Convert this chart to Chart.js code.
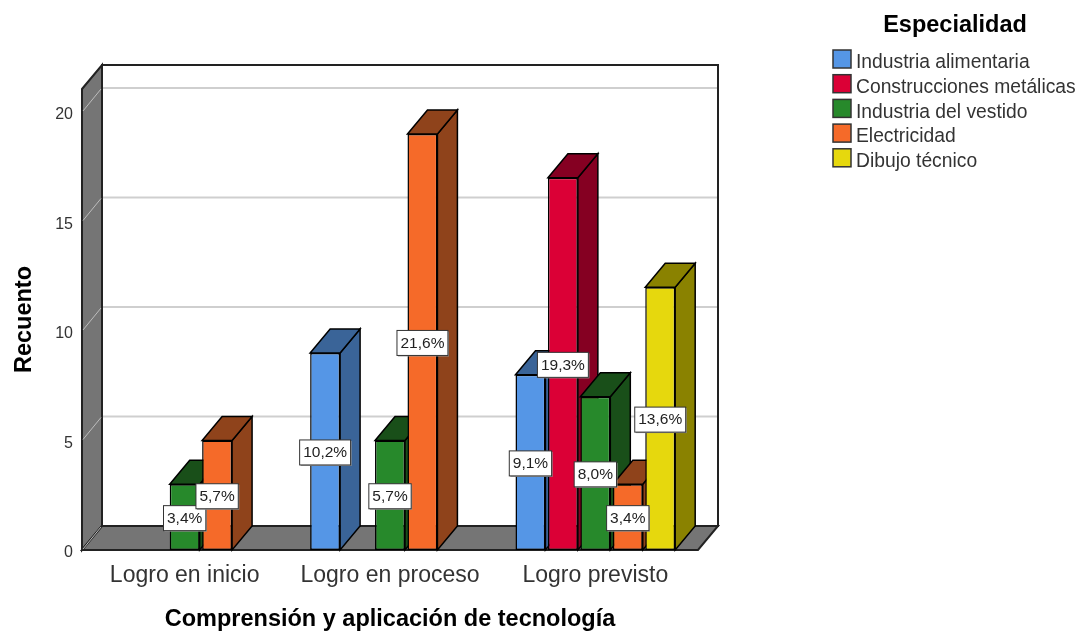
<!DOCTYPE html>
<html>
<head>
<meta charset="utf-8">
<style>
  html, body { margin: 0; padding: 0; background: #fff; }
  canvas { display: block; }
</style>
<script src="https://cdn.jsdelivr.net/npm/chart.js@4"></script>
</head>
<body>
<canvas id="grafico" width="1078" height="631"></canvas>
<script>
const categories = ['Logro en inicio', 'Logro en proceso', 'Logro previsto'];
const seriesNames = ['Industria alimentaria', 'Construcciones metálicas', 'Industria del vestido', 'Electricidad', 'Dibujo técnico'];

const alimentaria = [null, 9, 8];
const metalicas = [null, null, 17];
const vestido = [3, 5, 7];
const electricidad = [5, 19, 3];
const dibujo = [null, null, 12];

const pctAlimentaria = [null, '10,2%', '9,1%'];
const pctMetalicas = [null, null, '19,3%'];
const pctVestido = ['3,4%', '5,7%', '8,0%'];
const pctElectricidad = ['5,7%', '21,6%', '3,4%'];
const pctDibujo = [null, null, '13,6%'];

const frontColors = ['#5596E6', '#DB0036', '#27892B', '#F56A29', '#E6D80D'];
const sideColors = ['#3A6498', '#850022', '#194F19', '#8F431B', '#8A8200'];

const values = [alimentaria, metalicas, vestido, electricidad, dibujo];
const pcts = [pctAlimentaria, pctMetalicas, pctVestido, pctElectricidad, pctDibujo];

// desplazamiento de la perspectiva
const DX = 20, DY = 24;
const FONT = '"Liberation Sans", Arial, sans-serif';

function poly(c, pts, fill, stroke, lw) {
  c.beginPath();
  pts.forEach((p, i) => i ? c.lineTo(p[0], p[1]) : c.moveTo(p[0], p[1]));
  c.closePath();
  c.fillStyle = fill;
  c.fill();
  if (stroke) {
    c.strokeStyle = stroke;
    c.lineWidth = lw;
    c.stroke();
  }
}

const marco3d = {
  id: 'marco3d',
  beforeDatasetsDraw(chart) {
    const c = chart.ctx, a = chart.chartArea, y = chart.scales.y;
    const b = y.getPixelForValue(0);
    c.save();
    // paredes
    poly(c, [[a.left + DX, a.top - DY], [a.right + DX, a.top - DY], [a.right + DX, b - DY], [a.left + DX, b - DY]], '#fff');
    y.ticks.forEach(t => {
      if (t.value === 0) return;
      const p = y.getPixelForValue(t.value);
      c.strokeStyle = '#CFCFCF';
      c.lineWidth = 2;
      c.beginPath();
      c.moveTo(a.left + DX, p - DY);
      c.lineTo(a.right + DX, p - DY);
      c.stroke();
    });
    poly(c, [[a.left + DX, a.top - DY], [a.right + DX, a.top - DY], [a.right + DX, b - DY], [a.left + DX, b - DY]], 'rgba(0,0,0,0)', '#222', 2);
    poly(c, [[a.left, a.top], [a.left + DX, a.top - DY], [a.left + DX, b - DY], [a.left, b]], '#757575', '#222', 2);
    poly(c, [[a.left, b], [a.left + DX, b - DY], [a.right + DX, b - DY], [a.right, b]], '#757575', '#222', 2);
    y.ticks.forEach(t => {
      const p = y.getPixelForValue(t.value);
      c.strokeStyle = '#BDBDBD';
      c.lineWidth = 1;
      c.beginPath();
      c.moveTo(a.left + 1, p - 1);
      c.lineTo(a.left + DX - 1, p - DY + 1);
      c.stroke();
    });
    // caras laterales y superiores de las barras
    chart.data.datasets.forEach((ds, i) => {
      chart.getDatasetMeta(i).data.forEach((el, j) => {
        if (ds.data[j] == null) return;
        const r = el.x + el.width / 2, l = el.x - el.width / 2;
        poly(c, [[r, el.y], [r + DX, el.y - DY], [r + DX, el.base - DY], [r, el.base]], sideColors[i], '#000', 1.5);
        poly(c, [[l, el.y], [l + DX, el.y - DY], [r + DX, el.y - DY], [r, el.y]], sideColors[i], '#000', 1.5);
      });
    });
    c.restore();
  },
  afterDatasetsDraw(chart) {
    const c = chart.ctx;
    c.save();
    c.font = '15.5px ' + FONT;
    c.textAlign = 'center';
    c.textBaseline = 'middle';
    chart.data.datasets.forEach((ds, i) => {
      chart.getDatasetMeta(i).data.forEach((el, j) => {
        const txt = pcts[i][j];
        if (txt == null) return;
        const w = c.measureText(txt).width + 7, h = 25;
        const cy = (el.y + el.base) / 2 + 1;
        c.fillStyle = '#9A9A9A';
        c.fillRect(el.x - w / 2 + 1, cy - h / 2 + 1, w, h);
        c.fillStyle = '#fff';
        c.fillRect(el.x - w / 2, cy - h / 2, w, h);
        c.strokeStyle = '#333';
        c.lineWidth = 1;
        c.strokeRect(el.x - w / 2, cy - h / 2, w, h);
        c.fillStyle = '#222';
        c.fillText(txt, el.x, cy + 0.5);
      });
    });
    c.restore();
  },
  afterDraw(chart) {
    // leyenda
    const c = chart.ctx;
    c.save();
    c.textBaseline = 'middle';
    c.fillStyle = '#000';
    c.font = 'bold 23.5px ' + FONT;
    c.textAlign = 'center';
    c.fillText('Especialidad', 955, 26);
    c.textAlign = 'left';
    c.font = '19.3px ' + FONT;
    seriesNames.forEach((name, i) => {
      const top = 50 + i * 24.7;
      c.fillStyle = frontColors[i];
      c.strokeStyle = '#333';
      c.lineWidth = 1.5;
      c.fillRect(833, top, 18, 18);
      c.strokeRect(833, top, 18, 18);
      c.fillStyle = '#333';
      c.fillText(name, 856, top + 13);
    });
    c.restore();
  }
};

new Chart(document.getElementById('grafico'), {
  type: 'bar',
  data: {
    labels: categories,
    datasets: seriesNames.map((name, i) => ({
      label: name,
      data: values[i],
      backgroundColor: frontColors[i],
      borderColor: '#000',
      borderWidth: 1.5,
      borderSkipped: false,
      categoryPercentage: 0.79,
      barPercentage: 0.923
    }))
  },
  options: {
    responsive: false,
    animation: false,
    layout: { padding: { left: 0, right: 380, top: 89, bottom: 0 } },
    scales: {
      x: {
        grid: { display: false },
        border: { display: false },
        ticks: { color: '#333', padding: 4, maxRotation: 0, font: { family: FONT, size: 23 } },
        title: {
          display: true,
          text: 'Comprensión y aplicación de tecnología',
          color: '#000',
          padding: { top: 0, bottom: 0 },
          font: { family: FONT, size: 23.5, weight: 'bold', lineHeight: 1 }
        },
        afterFit: s => { s.height = 81; }
      },
      y: {
        min: 0,
        max: 21.05,
        grid: { display: false },
        border: { display: false },
        afterBuildTicks: s => { s.ticks = s.ticks.filter(t => t.value % 5 === 0); },
        ticks: { stepSize: 5, color: '#333', padding: 1, labelOffset: 3, font: { family: FONT, size: 16 } },
        title: {
          display: true,
          text: 'Recuento',
          color: '#000',
          padding: { top: 13, bottom: 0 },
          font: { family: FONT, size: 23.5, weight: 'bold', lineHeight: 1 }
        },
        afterFit: s => { s.width = 82; }
      }
    },
    plugins: {
      legend: { display: false },
      tooltip: { enabled: false }
    }
  },
  plugins: [marco3d]
});
</script>
</body>
</html>
